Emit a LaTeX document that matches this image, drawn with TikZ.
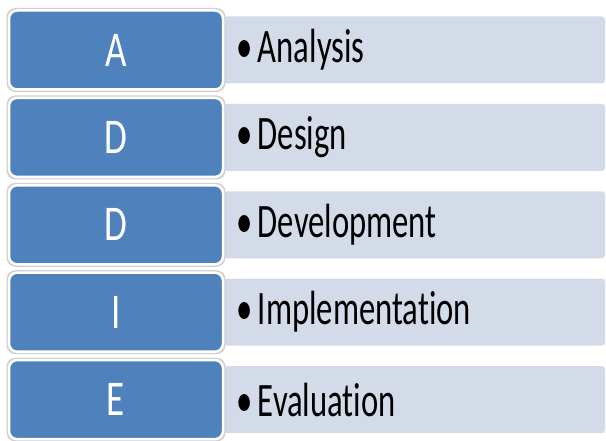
\documentclass[tikz,border=0pt]{standalone}
\usepackage{fontspec}
\setmainfont[Ligatures={NoCommon,NoDiscretionary,NoRare}]{Carlito}
\definecolor{stepblue}{HTML}{4F81BD}
\definecolor{steplight}{HTML}{D3DAE8}
\definecolor{stephalo}{HTML}{D0D0D0}
\newcommand{\letterfont}{\fontsize{50}{50}\selectfont}
\newcommand{\itemfont}{\fontsize{48}{48}\selectfont}
\begin{document}
\begin{tikzpicture}[x=1pt,y=1pt,
  halobox/.style={fill=stephalo, rounded corners=9pt, minimum width=219pt, minimum height=84pt, inner sep=0pt},
  letterbox/.style={fill=stepblue, draw=white, line width=2.5pt, rounded corners=8pt, minimum width=214pt, minimum height=79pt, inner sep=0pt, text=white},
  itembox/.style={fill=steplight, rounded corners=3pt, minimum width=381pt, minimum height=67pt, inner sep=0pt},
  itemtext/.style={anchor=west, inner sep=0pt, text=black}]
\useasboundingbox (0,0) rectangle (606,440);
\foreach \i/\L/\W in {0/A/Analysis,1/D/Design,2/D/Development,3/I/Implementation,4/E/Evaluation}{
  \pgfmathsetmacro\cy{390-87.4*\i}
  \node[itembox] (item\i) at (414.5,\cy) {};
  \node[halobox] (halo\i) at (116,\cy) {};
  \node[letterbox] (letter\i) at (116,\cy) {\scalebox{0.74}[1]{\letterfont\L}};
  \node[itemtext] (text\i) at (236,\cy) {\scalebox{0.68}[1]{\itemfont\textbullet\,\W}};
}
\end{tikzpicture}
\end{document}
